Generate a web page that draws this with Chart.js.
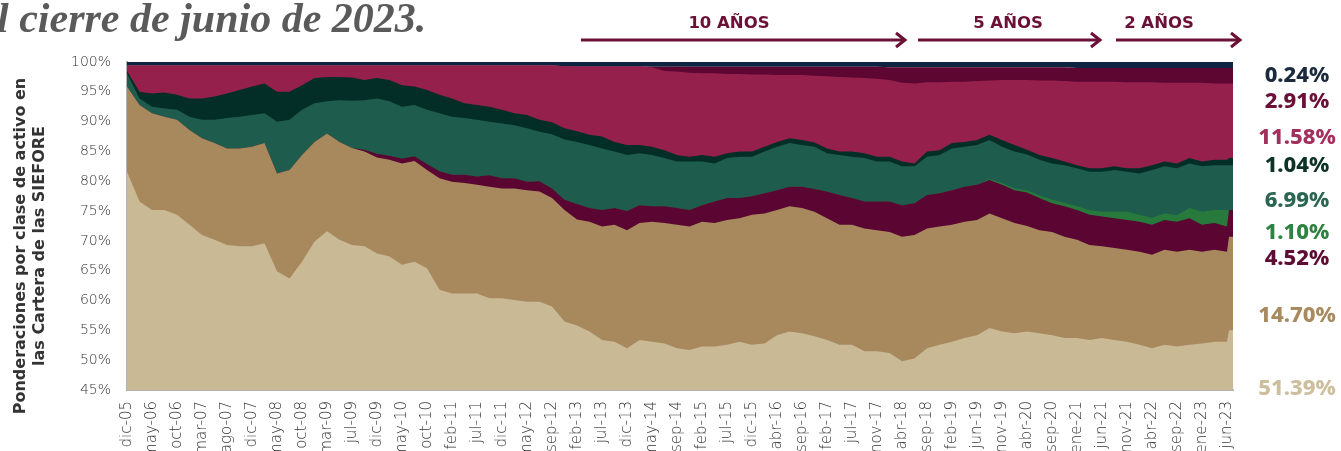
<!DOCTYPE html>
<html lang="es">
<head>
<meta charset="utf-8">
<title>Ponderaciones por clase de activo en las carteras de las SIEFORE</title>
<script src="https://cdn.jsdelivr.net/npm/chart.js@4.4.0/dist/chart.umd.min.js"></script>
<style>
  body { margin: 0; background: #fff; }
  #wrap { position: relative; width: 1341px; height: 451px; overflow: hidden; font-family: 'Noto Sans', sans-serif; }
  #chartBox { position: absolute; left: 0; top: 0; width: 1341px; height: 451px; }
  .title { position: absolute; left: -31px; top: -6px; font: italic bold 42px 'Liberation Serif', serif; color: #5a5a5a; white-space: nowrap; }
  .ytitle { position: absolute; left: -160px; top: 226px; width: 380px; height: 40px; line-height: 20px;
            transform: rotate(-90deg); text-align: center; font: bold 16px 'DejaVu Sans', sans-serif; color: #333; white-space: nowrap; }
  .endlbl { position: absolute; left: 1237px; width: 120px; text-align: center; line-height: 24px;
            font: 800 22px 'Noto Sans', sans-serif; }
  svg { position: absolute; left: 0; top: 0; }
</style>
</head>
<body>
<div id="wrap">
  <div id="chartBox"><canvas id="chart"></canvas></div>
  <div class="title">Al cierre de junio de 2023.</div>
  <svg width="1341" height="60">
    <g stroke="#6b1036" stroke-width="3" fill="none">
      <line x1="581" y1="40" x2="904" y2="40"/><polyline points="896,33 905,40 896,47"/>
      <line x1="918" y1="40" x2="1099" y2="40"/><polyline points="1091,33 1100,40 1091,47"/>
      <line x1="1116" y1="40" x2="1239" y2="40"/><polyline points="1231,33 1240,40 1231,47"/>
    </g>
    <g fill="#6b1036" font-family="DejaVu Sans" font-weight="bold" font-size="16.5" text-anchor="middle">
      <text x="729" y="28">10 AÑOS</text>
      <text x="1008" y="28">5 AÑOS</text>
      <text x="1159" y="28">2 AÑOS</text>
    </g>
  </svg>
  <div class="ytitle">Ponderaciones por clase de activo en<br>las Cartera de las SIEFORE</div>
  <div id="endLabels"></div>
</div>
<script>
// fechas del eje (una etiqueta cada ~5 meses)
const tickLabels = ['dic-05','may-06','oct-06','mar-07','ago-07','dic-07','may-08','oct-08','mar-09','jul-09',
  'dic-09','may-10','oct-10','feb-11','jul-11','dic-11','may-12','sep-12','feb-13','jul-13',
  'dic-13','may-14','sep-14','feb-15','jul-15','dic-15','abr-16','sep-16','feb-17','jul-17',
  'nov-17','abr-18','sep-18','feb-19','jun-19','nov-19','abr-20','sep-20','ene-21','jun-21',
  'nov-21','abr-22','sep-22','ene-23','jun-23'];

// muestras cada media etiqueta, mas el cierre de junio 2023
const samplePos = [];
for (let k = 0; k <= 88; k++) samplePos.push(k / 2);
samplePos.push(44.08, 44.24);

// limite superior acumulado de cada capa (%), de abajo hacia arriba
const tanTop = [81.6,76.6,75.2,75.2,74.4,72.7,71.0,70.2,69.3,69.1,
  69.1,69.6,64.9,63.7,66.5,69.9,71.6,70.2,69.3,69.1,
  67.9,67.4,66.0,66.5,65.4,61.8,61.2,61.2,61.2,60.4,
  60.4,60.1,59.8,59.8,59.0,56.5,55.8,54.8,53.4,53.1,
  52.0,53.4,53.1,52.8,52.0,51.7,52.3,52.3,52.6,53.1,
  52.6,52.8,54.2,54.8,54.5,54.0,53.4,52.6,52.6,51.5,
  51.5,51.2,49.8,50.3,52.0,52.6,53.1,53.7,54.2,55.4,
  54.8,54.5,54.8,54.5,54.2,53.7,53.7,53.4,53.7,53.4,
  53.1,52.6,52.0,52.6,52.3,52.6,52.8,53.1,53.1,55.0,55.0];

const brownTop = [95.9,92.8,91.4,90.8,90.3,88.6,87.2,86.4,85.5,85.5,
  85.8,86.4,81.3,81.9,84.4,86.6,88.0,86.6,85.6,85.0,
  84.0,83.6,83.0,83.4,81.9,80.5,79.9,79.7,79.4,79.1,
  78.8,78.8,78.5,78.3,77.2,75.2,73.6,73.2,72.4,72.7,
  71.8,73.0,73.2,73.0,72.7,72.4,73.2,73.0,73.5,73.8,
  74.4,74.6,75.2,75.8,75.5,74.9,73.8,72.7,72.7,72.1,
  71.8,71.5,70.7,71.0,72.1,72.4,72.7,73.2,73.5,74.6,
  73.8,73.0,72.5,71.8,71.5,70.7,70.2,69.3,69.1,68.8,
  68.5,68.2,67.7,68.5,68.2,68.5,68.2,68.5,68.2,70.7,70.7];

const maroonTop = [95.9,92.8,91.4,90.8,90.3,88.6,87.2,86.4,85.5,85.5,
  85.8,86.4,81.3,81.9,84.4,86.6,88.0,86.6,85.6,85.3,
  84.6,84.3,83.8,84.2,82.9,81.7,81.1,81.1,80.8,81.0,
  80.5,80.5,79.9,80.0,78.8,76.9,76.2,75.5,75.2,75.5,
  75.0,76.0,75.8,75.8,75.5,75.2,76.0,76.6,77.2,77.2,
  77.5,78.0,78.5,79.1,79.1,78.7,78.3,77.7,77.2,76.6,
  76.6,76.6,76.0,76.3,77.7,78.0,78.5,79.1,79.4,80.2,
  79.4,78.5,78.1,77.2,76.3,75.8,75.2,74.4,74.1,73.8,
  73.5,73.2,72.7,73.5,73.2,73.8,72.7,73.0,72.4,75.2,75.2];

const greenTop = [95.9,92.8,91.4,90.8,90.3,88.6,87.2,86.4,85.5,85.5,
  85.8,86.4,81.3,81.9,84.4,86.6,88.0,86.6,85.6,85.3,
  84.6,84.3,83.8,84.2,82.9,81.7,81.1,81.1,80.8,81.0,
  80.5,80.5,79.9,80.0,78.8,76.9,76.2,75.5,75.2,75.5,
  75.0,76.0,75.8,75.8,75.5,75.2,76.0,76.6,77.2,77.2,
  77.5,78.0,78.5,79.1,79.1,78.7,78.3,77.7,77.2,76.6,
  76.6,76.6,76.0,76.3,77.7,78.0,78.5,79.1,79.4,80.4,
  79.7,78.8,78.5,77.6,76.9,76.4,75.8,75.2,74.9,74.9,
  74.9,74.4,73.9,74.6,74.3,75.5,74.9,75.2,75.2,75.2,75.2];

const tealTop = [98.1,93.9,92.5,92.2,92.0,90.8,90.3,90.3,90.6,90.8,
  91.1,91.4,90.0,90.3,92.0,93.1,93.4,93.6,93.5,93.6,
  93.9,93.4,92.5,92.8,92.0,91.4,90.8,90.6,90.3,90.0,
  89.7,89.4,88.9,88.3,87.9,87.0,86.6,86.1,85.5,85.0,
  84.4,84.7,84.4,83.9,83.3,83.3,83.3,83.0,83.9,84.1,
  84.1,85.0,85.8,86.4,86.1,85.8,84.7,84.4,84.1,83.9,
  83.3,83.3,82.5,82.5,84.1,84.4,85.5,85.8,86.1,86.9,
  85.8,85.0,84.5,83.6,83.0,82.7,82.2,81.6,81.6,81.9,
  81.6,81.3,81.9,82.5,82.2,83.0,82.5,82.7,82.7,82.7,82.7];

const darkGreenTop = [98.5,95.0,94.7,94.9,94.5,93.9,93.9,94.2,94.7,95.3,
  95.9,96.4,95.0,95.0,96.1,97.3,97.5,97.5,97.4,97.0,
  97.3,97.0,96.1,95.9,95.3,94.5,93.9,93.1,92.8,92.5,
  92.0,91.4,91.1,90.3,89.9,88.9,88.4,87.8,87.5,86.6,
  86.1,86.1,85.8,85.2,84.4,84.1,84.4,84.1,84.7,85.0,
  85.0,85.8,86.6,87.2,86.9,86.5,85.5,85.0,85.0,84.7,
  84.1,84.1,83.3,83.0,85.0,85.2,86.4,86.6,86.9,87.8,
  86.9,86.1,85.3,84.4,83.9,83.3,82.7,82.2,82.2,82.5,
  82.2,82.2,82.7,83.3,83.0,83.9,83.3,83.6,83.6,83.9,83.9];

const crimsonTop = [99.4,99.4,99.4,99.4,99.4,99.4,99.4,99.4,99.4,99.4,
  99.4,99.4,99.4,99.4,99.4,99.4,99.4,99.4,99.4,99.4,
  99.4,99.4,99.4,99.4,99.4,99.4,99.4,99.4,99.4,99.4,
  99.4,99.4,99.4,99.4,99.4,99.3,99.2,99.2,99.2,99.2,
  99.2,99.2,99.1,98.5,98.4,98.2,98.1,98.1,98.0,98.0,
  97.9,97.9,97.8,97.8,97.8,97.7,97.6,97.5,97.4,97.3,
  97.2,97.0,96.5,96.4,96.6,96.6,96.7,96.7,96.8,96.9,
  97.0,97.0,97.0,96.9,96.9,96.8,96.7,96.7,96.7,96.7,
  96.6,96.6,96.6,96.5,96.5,96.5,96.5,96.4,96.4,96.4,96.4];

const maroon2Top = [99.4,99.4,99.4,99.4,99.4,99.4,99.4,99.4,99.4,99.4,
  99.4,99.4,99.4,99.4,99.4,99.4,99.4,99.4,99.4,99.4,
  99.4,99.4,99.4,99.4,99.4,99.4,99.4,99.4,99.4,99.4,
  99.4,99.4,99.4,99.4,99.4,99.3,99.3,99.3,99.3,99.3,
  99.3,99.3,99.2,99.2,99.2,99.2,99.2,99.2,99.2,99.2,
  99.2,99.2,99.2,99.2,99.2,99.2,99.2,99.2,99.2,99.2,
  99.2,99.1,99.1,99.1,99.1,99.1,99.1,99.1,99.1,99.1,
  99.1,99.1,99.1,99.1,99.1,99.1,99.0,99.0,99.0,99.0,
  99.0,99.0,99.0,99.0,99.0,99.0,99.0,99.0,99.0,99.0,99.0];

// ponderaciones al cierre (texto a la derecha), de arriba hacia abajo
const endValues = ['0.24%','2.91%','11.58%','1.04%','6.99%','1.10%','4.52%','14.70%','51.39%'];
const endColors = ['#1b2a3c','#6b1038','#a3305c','#0c3326','#2a6651','#2f8242','#5f0d34','#a88a5e','#cdbf9e'];
const endY = [70, 96, 132, 160, 195, 227, 253, 310, 383];

endValues.forEach((t, i) => {
  const d = document.createElement('div');
  d.className = 'endlbl';
  d.style.top = (endY[i] - 12) + 'px';
  d.style.color = endColors[i];
  d.textContent = t;
  document.getElementById('endLabels').appendChild(d);
});

function layer(label, arr, color, fill) {
  return {
    label: label,
    data: samplePos.map((x, j) => ({ x: x, y: arr[j] })),
    backgroundColor: color,
    borderWidth: 0,
    pointRadius: 0,
    tension: 0,
    fill: fill
  };
}

// el primero se dibuja encima; cada capa rellena hasta la base
const datasets = [
  layer('beige', tanTop, '#c9b995', 'start'),
  layer('cafe', brownTop, '#a8895e', 'start'),
  layer('guinda', maroonTop, '#5a0532', 'start'),
  layer('verde', greenTop, '#27793c', 'start'),
  layer('verde azulado', tealTop, '#1e5c4d', 'start'),
  layer('verde oscuro', darkGreenTop, '#032e27', 'start'),
  layer('rojo', crimsonTop, '#96204c', 'start'),
  layer('guinda 2', maroon2Top, '#5c0631', 'start'),
  layer('azul', maroon2Top, '#0e2440', 'end')
];

new Chart(document.getElementById('chart'), {
  type: 'line',
  data: { datasets: datasets },
  options: {
    responsive: true,
    maintainAspectRatio: false,
    animation: false,
    devicePixelRatio: 1,
    layout: { padding: { left: 0, top: 62, right: 108, bottom: 0 } },
    plugins: { legend: { display: false }, tooltip: { enabled: false } },
    scales: {
      x: {
        type: 'linear',
        min: 0,
        max: 44.24,
        afterBuildTicks: s => { s.ticks = tickLabels.map((_, i) => ({ value: i })); },
        afterFit: s => { s.height = 61; },
        grid: { display: false, drawTicks: false },
        border: { display: true, color: '#b4b4b4', width: 2 },
        ticks: {
          autoSkip: false, maxRotation: 90, minRotation: 90, padding: 11,
          color: '#333', font: { family: 'DejaVu Sans', size: 15, weight: 300 },
          callback: v => tickLabels[v]
        }
      },
      y: {
        min: 45,
        max: 100,
        afterFit: s => { s.width = 127; },
        grid: { display: false, drawTicks: false },
        border: { display: true, color: '#b4b4b4', width: 2 },
        ticks: {
          stepSize: 5, padding: 16, color: '#333', font: { family: 'DejaVu Sans', size: 14, weight: 300 },
          callback: v => v + '%'
        }
      }
    }
  }
});
</script>
</body>
</html>
